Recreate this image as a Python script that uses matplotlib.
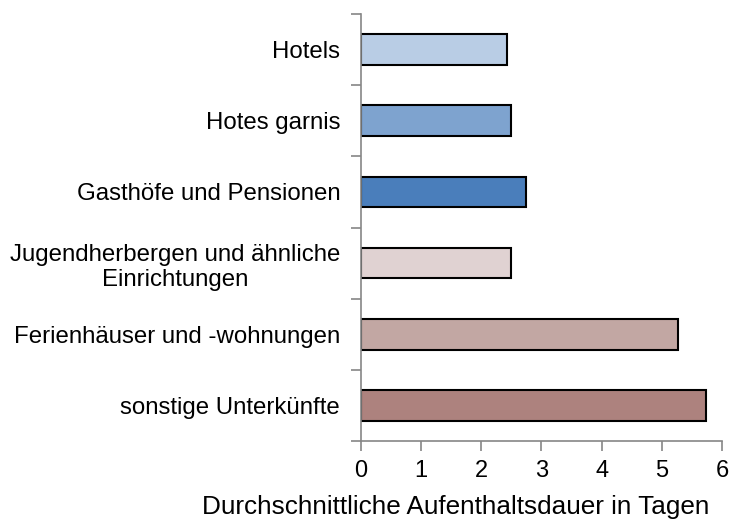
import matplotlib.pyplot as plt

plt.rcParams['font.family'] = ['Liberation Sans', 'DejaVu Sans']

# Data
categories = ['Hotels', 'Hotes garnis', 'Gasthöfe und Pensionen',
              'Jugendherbergen und ähnliche\nEinrichtungen',
              'Ferienhäuser und -wohnungen', 'sonstige Unterkünfte']
values = [2.42, 2.50, 2.75, 2.50, 5.27, 5.74]
colors = ['#B9CDE5', '#7EA3CF', '#4A7EBB', '#E0D2D2', '#C2A7A3', '#AD827E']

fig = plt.figure(figsize=(7.3, 5.27), dpi=100)
ax = fig.add_axes([0.4945, 0.1632, 0.4945, 0.8102])

pos = list(range(len(categories)))[::-1]
ax.barh(pos, values, height=0.43, color=colors, edgecolor='black', linewidth=1.5)

ax.set_ylim(-0.5, len(categories) - 0.5)
ax.set_xlim(0, 6)
ax.set_xticks(range(7))
ax.set_yticks(pos)
ax.set_yticklabels(categories, ha='right', multialignment='center')
ax.set_yticks([p - 0.5 for p in range(len(categories) + 1)], minor=True)

for s in ['top', 'right']:
    ax.spines[s].set_visible(False)
for s in ['left', 'bottom']:
    ax.spines[s].set_color('#868686')
    ax.spines[s].set_linewidth(1.2)

ax.tick_params(axis='y', which='major', length=0, pad=15, labelsize=17.3)
ax.tick_params(axis='y', which='minor', length=7, color='#868686', width=1.2)
ax.tick_params(axis='x', length=7, color='#868686', width=1.2, labelsize=17, pad=7)

fig.text(456 / 730, 1 - 507 / 527, 'Durchschnittliche Aufenthaltsdauer in Tagen',
         fontsize=18.8, ha='center', va='center')

plt.savefig('out.png', dpi=100)
